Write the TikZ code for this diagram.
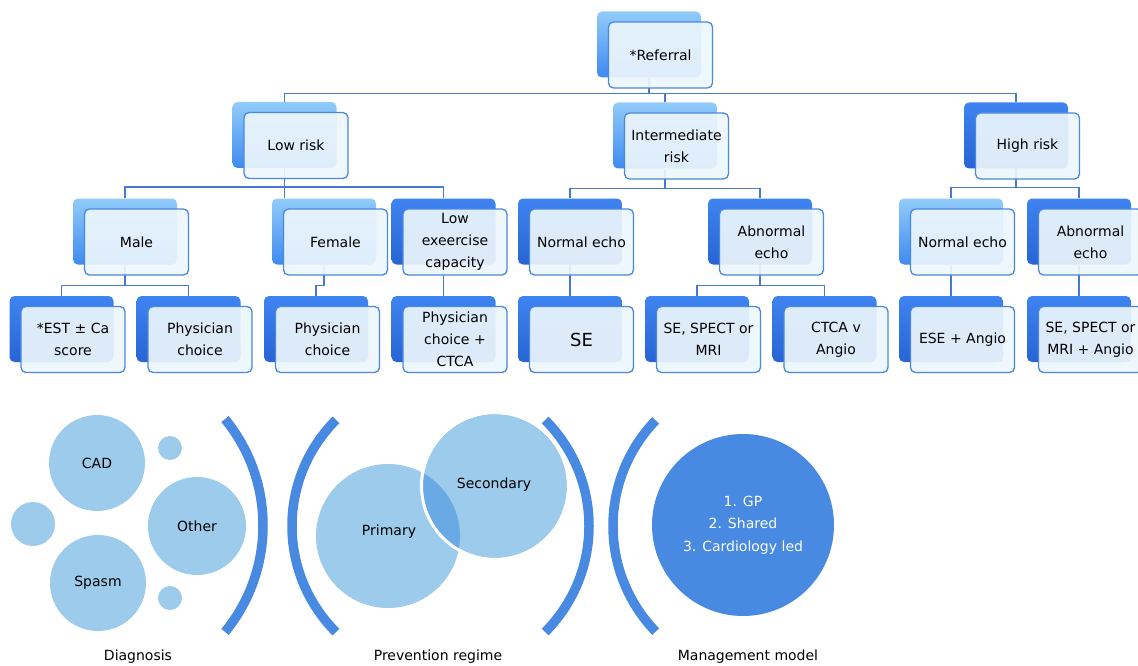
\documentclass[tikz,border=0pt]{standalone}
\usepackage{fontspec}
\setmainfont{DejaVu Sans}
\usetikzlibrary{backgrounds}
\definecolor{connc}{RGB}{70,122,210}
\definecolor{frontfill}{RGB}{236,246,252}
\definecolor{frontline}{RGB}{74,136,224}
\definecolor{ltop}{RGB}{146,204,250}
\definecolor{lbot}{RGB}{62,138,240}
\definecolor{dtop}{RGB}{62,132,240}
\definecolor{dbot}{RGB}{40,100,212}
\definecolor{bubble}{RGB}{157,203,235}
\definecolor{bubbledark}{RGB}{106,170,228}
\definecolor{arcblue}{RGB}{72,137,225}
\newcommand\boxpair[5]{%
  \node[#4] (#1B) at (#2,#3) {};
  \node[frontbox] (#1F) at ({#2+11.5},{#3+10.5}) {#5};}
\begin{document}
\begin{tikzpicture}[x=1pt,y=-1pt,
  backbase/.style={rectangle, rounded corners=5, minimum width=104, minimum height=66, inner sep=0},
  backlight/.style={backbase, top color=ltop, bottom color=lbot},
  backdark/.style={backbase, top color=dtop, bottom color=dbot},
  frontbox/.style={rectangle, rounded corners=5, minimum width=104, minimum height=66, inner sep=0,
    draw=frontline, line width=1.3, fill=frontfill, fill opacity=0.92, text opacity=1,
    align=center, font=\fontsize{14}{22}\selectfont},
  connector/.style={draw=connc, line width=1.5},
  bub/.style={circle, fill=bubble, inner sep=0, font=\fontsize{14}{22}\selectfont},
  arcst/.style={draw=arcblue, line width=9.5},
  caption/.style={font=\fontsize{14}{18}\selectfont, inner sep=0}]
\useasboundingbox (0,0) rectangle (1138,666);
\clip (0,0) rectangle (1138,666);
% level 0
\boxpair{ref}{649}{44.5}{backlight}{*Referral}
% level 1
\boxpair{low}{284.5}{135}{backlight}{Low risk}
\boxpair{int}{665}{135.5}{backlight}{Intermediate\\risk}
\boxpair{high}{1016}{135.5}{backdark}{High risk}
% level 2
\boxpair{male}{125}{231.5}{backlight}{Male}
\boxpair{fem}{324}{231.5}{backlight}{Female}
\boxpair{lowex}{443.5}{231.5}{backdark}{Low\\exeercise\\capacity}
\boxpair{normi}{570}{231.5}{backdark}{Normal echo}
\boxpair{abni}{760}{231.5}{backdark}{Abnormal\\echo}
\boxpair{normh}{951}{231.5}{backlight}{Normal echo}
\boxpair{abnh}{1079}{231.5}{backdark}{Abnormal\\echo}
% level 3
\boxpair{est}{61.5}{329}{backdark}{*EST ± Ca\\score}
\boxpair{physm}{188.5}{329}{backdark}{Physician\\choice}
\boxpair{physf}{316}{329}{backdark}{Physician\\choice}
\boxpair{physc}{443.5}{329}{backdark}{Physician\\choice +\\CTCA}
\boxpair{se}{570}{329}{backdark}{\fontsize{18}{22}\selectfont SE}
\boxpair{sesp}{697}{329}{backdark}{SE, SPECT or\\MRI}
\boxpair{ctca}{824.5}{329}{backdark}{CTCA v\\Angio}
\boxpair{ese}{951}{329}{backdark}{ESE + Angio}
\boxpair{semri}{1079}{329}{backdark}{SE, SPECT or\\MRI + Angio}
% connectors
\begin{pgfonlayer}{background}
\draw[connector] (refB.south) -- ++(0,16) coordinate (refmid);
\draw[connector] (refmid) -| (lowB.north);
\draw[connector] (refmid) -| (intB.north);
\draw[connector] (refmid) -| (highB.north);
\draw[connector] (lowB.south) -- ++(0,19) coordinate (lowmid);
\draw[connector] (lowmid) -| (maleB.north);
\draw[connector] (lowmid) -| (lowexB.north);
\draw[connector] (lowmid) -- (lowB.south |- femB.north);
\draw[connector] (maleB.south) -- ++(0,21) coordinate (malemid);
\draw[connector] (malemid) -| (estB.north);
\draw[connector] (malemid) -| (physmB.north);
\draw[connector] (femB.south) -- ++(0,21) -| (physfB.north);
\draw[connector] (lowexB.south) -- (physcB.north);
\draw[connector] (intB.south) -- ++(0,20) coordinate (intmid);
\draw[connector] (intmid) -| (normiB.north);
\draw[connector] (intmid) -| (abniB.north);
\draw[connector] (normiB.south) -- (seB.north);
\draw[connector] (abniB.south) -- ++(0,21) coordinate (abnimid);
\draw[connector] (abnimid) -| (sespB.north);
\draw[connector] (abnimid) -| (ctcaB.north);
\draw[connector] (highB.south) -- ++(0,19) coordinate (highmid);
\draw[connector] (highmid) -| (normhB.north);
\draw[connector] (highmid) -| (abnhB.north);
\draw[connector] (normhB.south) -- (eseB.north);
\draw[connector] (abnhB.south) -- (semriB.north);
\end{pgfonlayer}
% Diagnosis
\node[bub, minimum size=96] (cad) at (97,463) {CAD};
\node[bub, minimum size=98] (other) at (197,526) {Other};
\node[bub, minimum size=96] (spasm) at (98,583) {Spasm};
\node[bub, minimum size=44] (sml) at (33,524) {};
\node[bub, minimum size=24] (smt) at (170,448) {};
\node[bub, minimum size=24] (smb) at (170,598) {};
\begin{scope}
  \clip (95,525.5) -- +(-39.3:400) -- +(0:400) -- +(39.3:400) -- cycle;
  \draw[arcst] (95,525.5) circle[radius=168];
\end{scope}
\node[caption] (diag) at (138,657) {Diagnosis};
% Prevention
\begin{scope}
  \clip (442,526) -- +(135:400) -- +(180:400) -- +(225:400) -- cycle;
  \draw[arcst] (442,526) circle[radius=150];
\end{scope}
\begin{scope}
  \clip (439,526) -- +(-45:400) -- +(0:400) -- +(45:400) -- cycle;
  \draw[arcst] (439,526) circle[radius=150];
\end{scope}
\node[bub, minimum size=144] (prim) at (388,536) {};
\node[bub, minimum size=144] (sec) at (495,486) {};
\begin{scope}
  \clip (prim.center) circle[radius=72];
  \fill[bubbledark] (sec.center) circle[radius=72];
\end{scope}
\draw[white, line width=3] (sec.center) circle[radius=73.5];
\node[font=\fontsize{14}{22}\selectfont] (primt) at (389,532) {Primary};
\node[font=\fontsize{14}{22}\selectfont] (sect) at (494,485) {Secondary};
\node[caption] (prev) at (438,657) {Prevention regime};
% Management
\begin{scope}
  \clip (765,526) -- +(136:400) -- +(180:400) -- +(224:400) -- cycle;
  \draw[arcst] (765,526) circle[radius=152];
\end{scope}
\node[circle, fill=arcblue, minimum size=182, inner sep=0, text=white, align=center,
  font=\fontsize{14}{22.5}\selectfont] (mgmt) at (743,525) {1. GP\\2. Shared\\3. Cardiology led};
\node[caption] (mgmtl) at (748,657) {Management model};
\end{tikzpicture}
\end{document}
